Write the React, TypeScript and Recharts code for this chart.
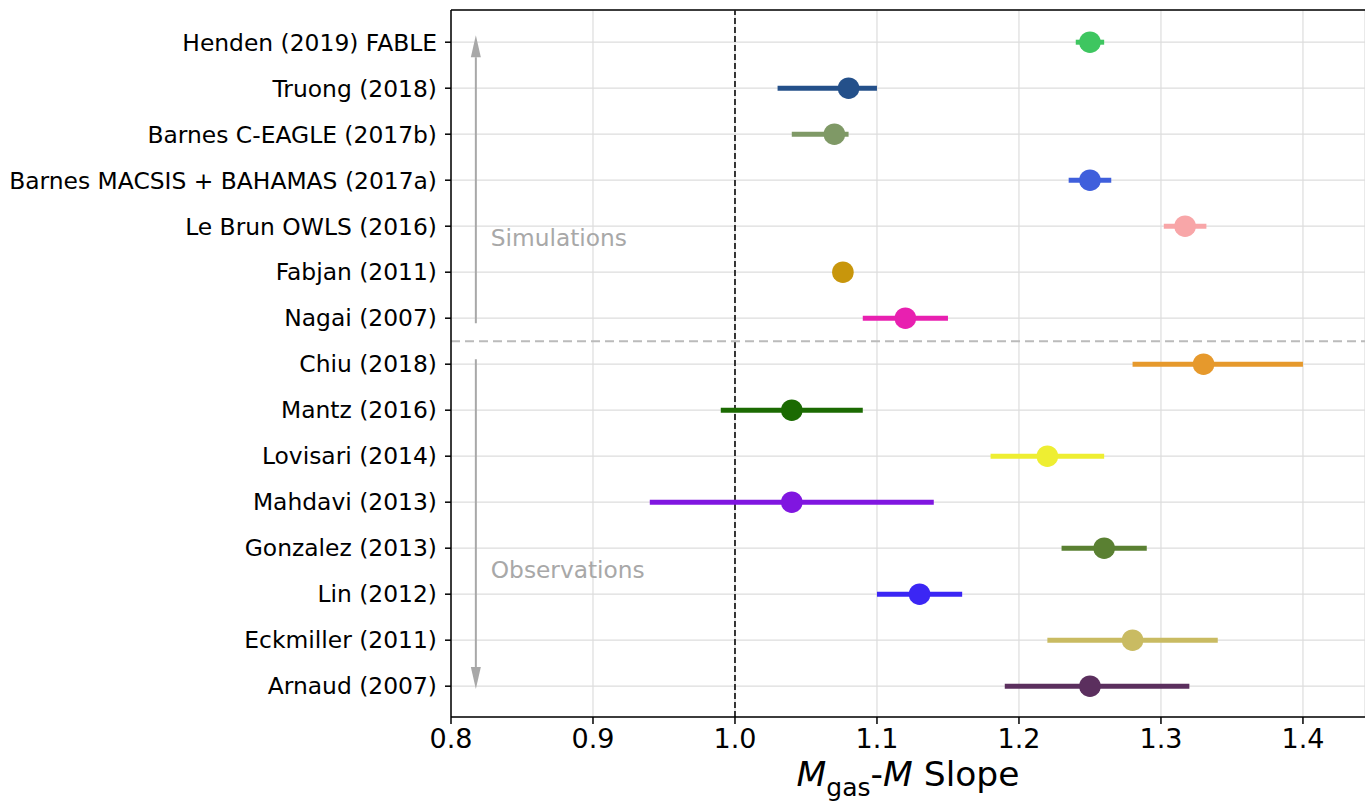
import React from "react";
import {
  ErrorBar,
  CartesianGrid,
  ReferenceDot,
  ReferenceLine,
  Scatter,
  ScatterChart,
  XAxis,
  YAxis
} from "recharts";

const studies = [
  "Henden (2019) FABLE",
  "Truong (2018)",
  "Barnes C-EAGLE (2017b)",
  "Barnes MACSIS + BAHAMAS (2017a)",
  "Le Brun OWLS (2016)",
  "Fabjan (2011)",
  "Nagai (2007)",
  "Chiu (2018)",
  "Mantz (2016)",
  "Lovisari (2014)",
  "Mahdavi (2013)",
  "Gonzalez (2013)",
  "Lin (2012)",
  "Eckmiller (2011)",
  "Arnaud (2007)"
];

const slopes = [1.25, 1.08, 1.07, 1.25, 1.317, 1.076, 1.12, 1.33, 1.04, 1.22, 1.04, 1.26, 1.13, 1.28, 1.25];
const lower = [1.24, 1.03, 1.04, 1.235, 1.302, 1.076, 1.09, 1.28, 0.99, 1.18, 0.94, 1.23, 1.1, 1.22, 1.19];
const upper = [1.26, 1.1, 1.08, 1.265, 1.332, 1.076, 1.15, 1.4, 1.09, 1.26, 1.14, 1.29, 1.16, 1.34, 1.32];

const colors = [
  "#3ec660",
  "#24508a",
  "#7f9966",
  "#3f5fdc",
  "#f8a6a8",
  "#c8960c",
  "#e820b0",
  "#e6992c",
  "#1b6a02",
  "#eeee32",
  "#8016e0",
  "#5a8032",
  "#3b26f4",
  "#c9bb62",
  "#5b2f5e"
];

const xTicks = [0.8, 0.9, 1.0, 1.1, 1.2, 1.3, 1.4];
const rowTicks = studies.map((_, i) => i);

const font = "'DejaVu Sans', sans-serif";
const Y_MIN = -0.7;
const Y_MAX = 14.67;
const ARROW_X = 0.8175;

const Arrow = (props: any) => {
  const { x1, y1, x2, y2 } = props;
  const dir = y2 < y1 ? -1 : 1;
  const headLen = 22;
  const headW = 5;
  return (
    <g>
      <line x1={x1} y1={y1} x2={x2} y2={y2 - dir * headLen} stroke="#a8a8a8" strokeWidth={2} />
      <polygon
        points={`${x2},${y2} ${x2 - headW},${y2 - dir * headLen} ${x2 + headW},${y2 - dir * headLen}`}
        fill="#a8a8a8"
      />
    </g>
  );
};

const XLabel = (props: any) => {
  const vb = props.viewBox || {};
  const cx = vb.x + vb.width / 2;
  return (
    <text x={cx} y={786} textAnchor="middle" fontFamily={font} fontSize={34.5} fill="#000">
      <tspan fontStyle="italic">M</tspan>
      <tspan fontSize={25} dy={10}>gas</tspan>
      <tspan dy={-10}>-</tspan>
      <tspan fontStyle="italic">M</tspan>
      <tspan> Slope</tspan>
    </text>
  );
};

export default function App() {
  return (
    <div style={{ width: 1365, height: 803, background: "#fff" }}>
      <style>{`body{margin:0}`}</style>
      <ScatterChart width={1365} height={803} margin={{ top: 10, right: 0, bottom: 0, left: 0 }}>
        <CartesianGrid stroke="#dddddd" strokeWidth={1.2} />
        <XAxis
          type="number"
          dataKey="x"
          domain={[0.8, 1.4437]}
          allowDataOverflow
          ticks={xTicks}
          tickFormatter={(v: number) => v.toFixed(1)}
          tick={{ fontFamily: font, fontSize: 27, fill: "#000" }}
          tickSize={7}
          tickMargin={5}
          stroke="#000"
          strokeWidth={1.5}
          height={86}
          label={<XLabel />}
        />
        <YAxis
          type="number"
          dataKey="row"
          domain={[Y_MIN, Y_MAX]}
          allowDataOverflow
          reversed
          ticks={rowTicks}
          interval={0}
          tickFormatter={(i: number) => studies[i] ?? ""}
          tick={{ fontFamily: font, fontSize: 23.4, fill: "#000" }}
          tickSize={6}
          tickMargin={8}
          stroke="#000"
          strokeWidth={1.5}
          width={451}
        />
        <ReferenceLine y={Y_MIN} stroke="#000" strokeWidth={1.5} />
        <ReferenceLine x={1.0} stroke="#222" strokeWidth={1.8} strokeDasharray="6 3" />
        <ReferenceLine y={6.5} stroke="#bbbbbb" strokeWidth={2} strokeDasharray="9 5" />
        <ReferenceLine
          segment={[{ x: ARROW_X, y: 6.11 }, { x: ARROW_X, y: -0.15 }]}
          shape={<Arrow />}
        />
        <ReferenceLine
          segment={[{ x: ARROW_X, y: 6.89 }, { x: ARROW_X, y: 14.06 }]}
          shape={<Arrow />}
        />
        <ReferenceDot
          x={0.828}
          y={4.24}
          r={0}
          fill="none"
          stroke="none"
          label={{ value: "Simulations", position: "right", offset: 0, fill: "#a8a8a8", fontSize: 23.3, fontFamily: font }}
        />
        <ReferenceDot
          x={0.828}
          y={11.46}
          r={0}
          fill="none"
          stroke="none"
          label={{ value: "Observations", position: "right", offset: 0, fill: "#a8a8a8", fontSize: 23.3, fontFamily: font }}
        />
        {studies.map((name, i) => (
          <Scatter
            key={name}
            name={name}
            data={[{ x: slopes[i], row: i, err: [slopes[i] - lower[i], upper[i] - slopes[i]] }]}
            fill={colors[i]}
            isAnimationActive={false}
            shape={(p: any) => <circle cx={p.cx} cy={p.cy} r={10.8} fill={colors[i]} />}
          >
            <ErrorBar dataKey="err" direction="x" width={0} stroke={colors[i]} strokeWidth={5} isAnimationActive={false} />
          </Scatter>
        ))}
      </ScatterChart>
    </div>
  );
}
